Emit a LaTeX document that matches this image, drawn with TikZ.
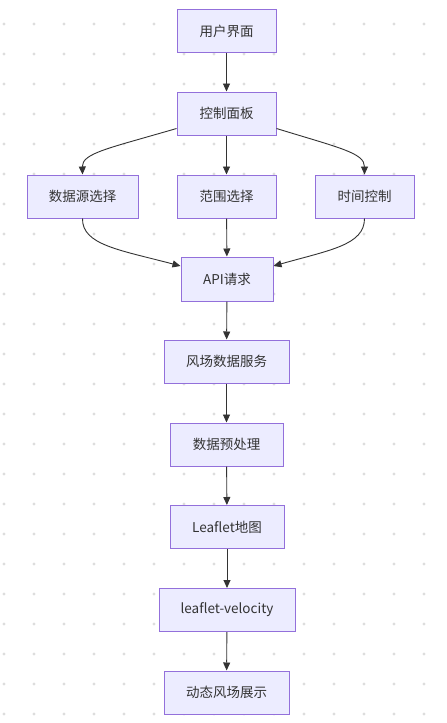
\documentclass[tikz,border=0pt]{standalone}
\usepackage{fontspec}
\setmainfont{Noto Sans CJK SC}
\usetikzlibrary{arrows.meta,calc}
\definecolor{nodefill}{HTML}{ECECFF}
\definecolor{nodeline}{HTML}{9370DB}
\definecolor{edgecol}{HTML}{333333}
\definecolor{dotcol}{HTML}{DDDDDD}
\tikzset{
  box/.style={draw=nodeline, fill=nodefill, line width=1pt, minimum height=43pt, inner sep=0pt, text=edgecol, font=\fontsize{13.5}{16}\selectfont},
  arr/.style={draw=edgecol, line width=0.9pt, -{Triangle[length=8pt,width=7pt]}},
}
\begin{document}
\begin{tikzpicture}[x=1pt,y=-1pt]
\useasboundingbox (0,0) rectangle (447,723);
\fill[white] (0,0) rectangle (447,723);
\foreach \i in {4,34,...,424} {
  \foreach \j in {24,54,...,714} {
    \fill[dotcol] (\i,\j) circle (1.6pt);
  }
}
\node[box, minimum width=99pt] (ui) at (226.5,31) {用户界面};
\node[box, minimum width=99pt] (ctrl) at (226.5,113.5) {控制面板};
\node[box, minimum width=111pt] (ds) at (82.5,196.5) {数据源选择};
\node[box, minimum width=99pt] (rg) at (226.5,196.5) {范围选择};
\node[box, minimum width=99pt] (tm) at (364.5,196.5) {时间控制};
\node[box, minimum width=92pt, minimum height=44pt] (api) at (227,279) {API请求};
\node[box, minimum width=125pt] (svc) at (226.5,361.5) {风场数据服务};
\node[box, minimum width=113pt] (pre) at (226.5,444.5) {数据预处理};
\node[box, minimum width=114pt] (map) at (227,527) {Leaflet地图};
\node[box, minimum width=136pt] (vel) at (227,610) {leaflet-velocity};
\node[box, minimum width=125pt] (show) at (226.5,692.5) {动态风场展示};

\draw[arr] (ui) -- (ctrl);
\draw[arr] (ctrl) -- (rg);
\draw[arr] ([yshift=7pt]ctrl.south west) .. controls (110,148) and (82,153) .. (ds.north);
\draw[arr] ([yshift=7pt]ctrl.south east) .. controls (340,148) and (364.5,153) .. (tm.north);
\draw[arr] (rg) -- (api);
\draw[arr] (ds.south) .. controls (82,245) and (120,250) .. ([yshift=13pt]api.west);
\draw[arr] (tm.south) .. controls (364.5,245) and (330,250) .. ([yshift=13pt]api.east);
\draw[arr] (api) -- (svc);
\draw[arr] (svc) -- (pre);
\draw[arr] (pre) -- (map);
\draw[arr] (map) -- (vel);
\draw[arr] (vel) -- (show);
\end{tikzpicture}
\end{document}
